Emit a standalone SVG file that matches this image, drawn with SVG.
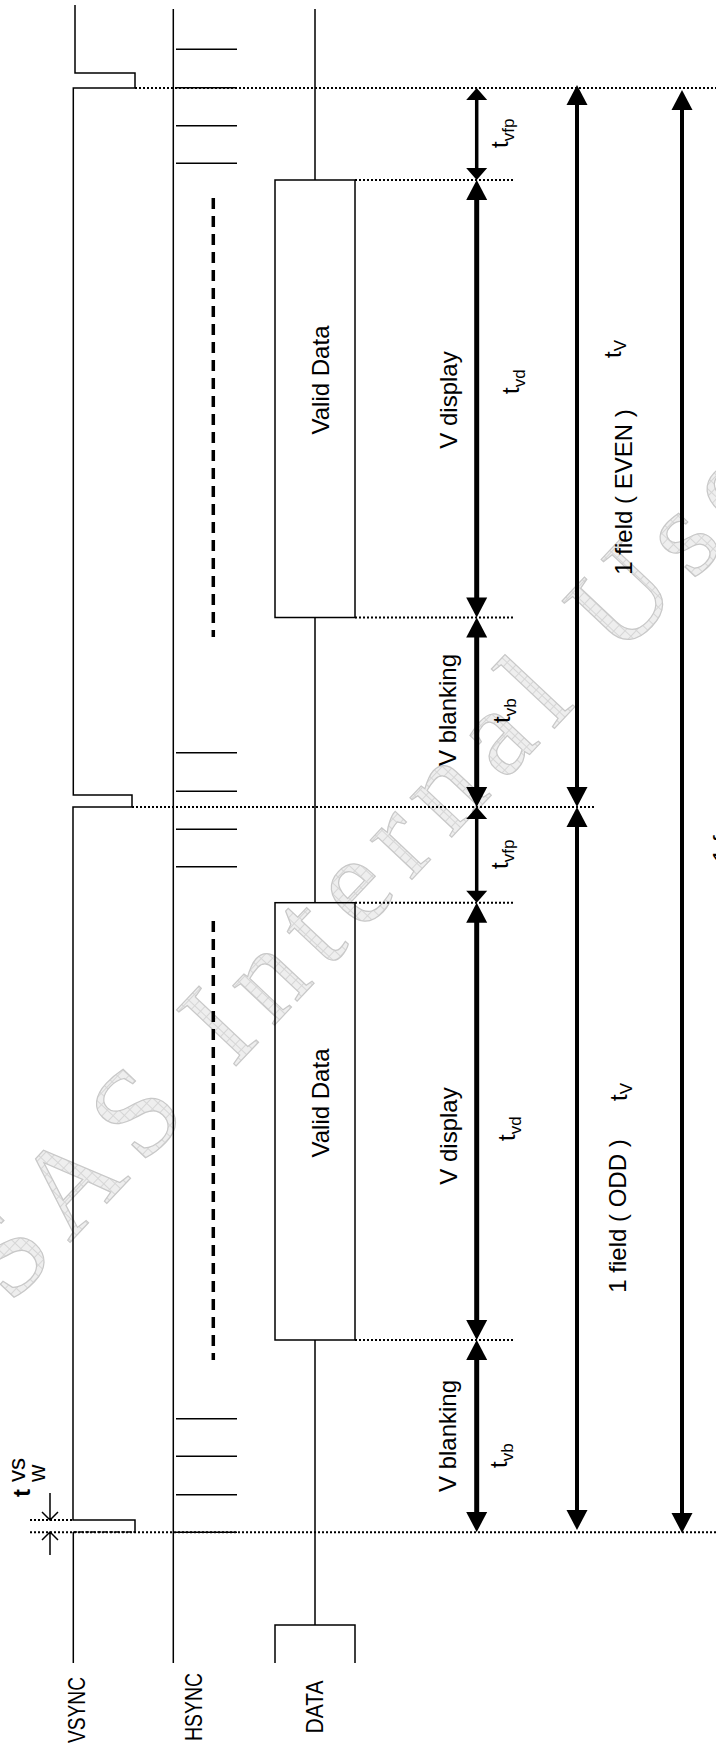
<svg xmlns="http://www.w3.org/2000/svg" width="716" height="1749" viewBox="0 0 716 1749">
<style>
.sig{stroke:#000;stroke-width:1.5;fill:none}
.dot{stroke:#000;stroke-width:2;stroke-dasharray:2 2;fill:none}
.hd{stroke:#000;stroke-width:3.5;stroke-dasharray:11 7;fill:none}
.thin{stroke:#000;stroke-width:3.5;fill:none;marker-start:url(#hThin);marker-end:url(#hThin)}
.thick{stroke:#000;stroke-width:5;fill:none;marker-start:url(#hThick);marker-end:url(#hThick)}
.mid{stroke:#000;stroke-width:4;fill:none;marker-start:url(#hThick);marker-end:url(#hThick)}
.lbl{font-family:"Liberation Sans",Arial,sans-serif;font-size:24px;fill:#000}
.sub{font-size:17px}
.wm{font-family:"Liberation Serif","Times New Roman",serif;font-size:125px;letter-spacing:16px;fill:url(#grid);stroke:#c8c8c8;stroke-width:1.2}
</style>
<defs>
<marker id="hThin" markerUnits="userSpaceOnUse" viewBox="-2 -12 16 24" markerWidth="16" markerHeight="24" refX="0" refY="0" orient="auto-start-reverse" overflow="visible"><path d="M-1,-10.5 L11,0 L-1,10.5 Z" fill="#000"/></marker>
<marker id="hThick" markerUnits="userSpaceOnUse" viewBox="-2 -12 24 24" markerWidth="24" markerHeight="24" refX="0" refY="0" orient="auto-start-reverse" overflow="visible"><path d="M-1,-10.5 L19,0 L-1,10.5 Z" fill="#000"/></marker>
<pattern id="grid" patternUnits="userSpaceOnUse" width="8" height="8"><rect width="8" height="8" fill="#eeeeee"/><path d="M0,0.5 H8 M0.5,0 V8" stroke="#d6d6d6" stroke-width="1"/></pattern>
</defs>
<rect width="716" height="1749" fill="#fff"/>
<g id="watermark">
<text class="wm" transform="translate(10.5,1305.5) rotate(-46.7)">SAS Internal Use</text>
</g>
<g id="vsync">
<path class="sig" d="M75,5 V73 H135 V88 H73.3 V795 H132 V807 H73 V1520 H135 V1532"/>
<path class="sig" d="M73.3,1532 V1663"/>
<path class="sig" d="M73.3,1532 H135" stroke-dasharray="4 2"/>
<text class="lbl" text-anchor="middle" textLength="66" lengthAdjust="spacingAndGlyphs" transform="translate(85,1710) rotate(-90)">VSYNC</text>
</g>
<g id="hsync">
<path class="sig" d="M173.3,9 V1663"/>
<path class="sig" d="M176,49.3 H237 M176,87.7 H237 M176,125.7 H237 M176,163.3 H237 M176,752.7 H237 M176,791.3 H237 M176,829.3 H237 M176,866.7 H237 M176,1418.7 H237 M176,1456.3 H237 M176,1494.7 H237 M176,1532.3 H237"/>
<path class="hd" d="M213.3,198 V637 M213.3,921 V1360"/>
<text class="lbl" text-anchor="middle" textLength="68" lengthAdjust="spacingAndGlyphs" transform="translate(202,1707) rotate(-90)">HSYNC</text>
</g>
<g id="data">
<path class="sig" d="M315,9 V180 M315,617.5 V902.7 M315,1340 V1625 M275,1663 V1625 H355 V1663"/>
<rect class="sig" x="275" y="180" width="80" height="437.5"/>
<rect class="sig" x="275" y="902.7" width="80" height="437.3"/>
<text class="lbl" text-anchor="middle" transform="translate(329,380) rotate(-90)">Valid Data</text>
<text class="lbl" text-anchor="middle" transform="translate(329,1103) rotate(-90)">Valid Data</text>
<text class="lbl" text-anchor="middle" textLength="53" lengthAdjust="spacingAndGlyphs" transform="translate(323,1707) rotate(-90)">DATA</text>
</g>
<g id="markers-dotted">
<path class="dot" d="M135,88 H716 M355,180 H513 M355,617.5 H513 M132,807 H595 M355,902.7 H513 M355,1340 H513 M30,1532.3 H716 M30,1520 H73"/>
</g>
<g id="connectors">
<path class="thin" d="M476.7,99 V169"/>
<path class="thick" d="M476.7,199 V598.5"/>
<path class="thick" d="M476.7,636.5 V788"/>
<path class="thin" d="M476.7,818 V891.7"/>
<path class="thick" d="M476.7,921.7 V1321"/>
<path class="thick" d="M476.7,1359 V1513"/>
<path class="mid" d="M577,104 V788"/>
<path class="mid" d="M577,826 V1511"/>
<path class="mid" d="M682,109 V1514"/>
<path class="sig" d="M50,1493 V1520 M42,1512 L50,1520 L58,1512 M50,1555 V1532 M42,1540 L50,1532 L58,1540"/>
</g>
<g id="labels">
<text class="lbl" text-anchor="middle" transform="translate(457,400) rotate(-90)">V display</text>
<text class="lbl" text-anchor="middle" transform="translate(456,710) rotate(-90)">V blanking</text>
<text class="lbl" text-anchor="middle" transform="translate(457,1136) rotate(-90)">V display</text>
<text class="lbl" text-anchor="middle" transform="translate(456,1436) rotate(-90)">V blanking</text>
<text class="lbl" transform="translate(508,148) rotate(-90)">t<tspan class="sub" dy="6">vfp</tspan></text>
<text class="lbl" transform="translate(519,394) rotate(-90)">t<tspan class="sub" dy="6">vd</tspan></text>
<text class="lbl" transform="translate(510,723) rotate(-90)">t<tspan class="sub" dy="6">vb</tspan></text>
<text class="lbl" transform="translate(508,869) rotate(-90)">t<tspan class="sub" dy="6">vfp</tspan></text>
<text class="lbl" transform="translate(515,1141) rotate(-90)">t<tspan class="sub" dy="6">vd</tspan></text>
<text class="lbl" transform="translate(507,1468) rotate(-90)">t<tspan class="sub" dy="6">vb</tspan></text>
<text class="lbl" text-anchor="middle" transform="translate(632,492) rotate(-90)">1 field ( EVEN )</text>
<text class="lbl" transform="translate(621,358) rotate(-90)">t<tspan class="sub" dy="5">V</tspan></text>
<text class="lbl" text-anchor="middle" transform="translate(626,1216) rotate(-90)">1 field ( ODD )</text>
<text class="lbl" transform="translate(627,1101) rotate(-90)">t<tspan class="sub" dy="5">V</tspan></text>
<text class="lbl" transform="translate(730,862) rotate(-90)">1 frame</text>
<text class="lbl" font-weight="bold" font-size="23" transform="translate(30,1497) rotate(-90)">t</text>
<text class="lbl" font-size="14" transform="translate(25,1482) rotate(-90)">vs</text>
<text class="lbl" font-size="15" transform="translate(45,1482) rotate(-90)">w</text>
</g>
</svg>
